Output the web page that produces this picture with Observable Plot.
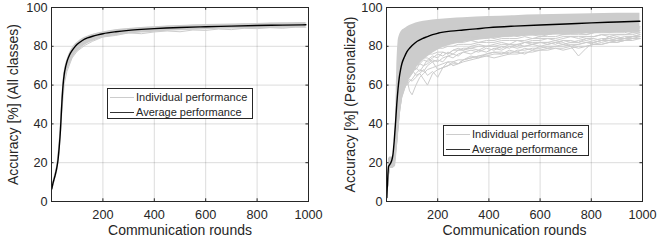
<!DOCTYPE html>
<html><head><meta charset="utf-8">
<script src="https://cdn.jsdelivr.net/npm/d3@7"></script>
<script src="https://cdn.jsdelivr.net/npm/@observablehq/plot@0.6"></script>
<style>
body{margin:0;background:#fff;}
#wrap{position:relative;width:657px;height:243px;overflow:hidden;font-family:"Liberation Sans",Arial,sans-serif;}
#wrap svg.plot{position:absolute;top:0;}
.leg{position:absolute;background:#fff;border:1px solid #262626;box-sizing:border-box;font-size:11px;color:#262626;}
.leg .row{position:absolute;left:0;height:14px;line-height:14px;white-space:nowrap;}
.leg .sw{position:absolute;left:2px;width:24px;top:7px;}
.leg .tx{position:absolute;left:28px;top:0;}
</style></head>
<body><div id="wrap"></div>
<script>
// ---- data ----
const xTicks = [200, 400, 600, 800, 1000];
const yTicks = [0, 20, 40, 60, 80, 100];
const xLabel = "Communication rounds";
const yLabelL = "Accuracy [%] (All classes)";
const yLabelR = "Accuracy [%] (Personalized)";
const legendLabels = ["Individual performance", "Average performance"];

// Left panel (all classes)
const roundsL = [1,5,10,15,20,25,30,35,40,45,50,55,60,70,80,90,100,120,140,160,180,200,250,300,350,400,500,600,700,800,900,990];
const avgL = [6.5,9,11.5,14,17,21,28,37,50,60,66,69.5,72,75.5,77.8,79.6,81,83,84.3,85.2,85.9,86.5,87.5,88.2,88.7,89.1,89.7,90.1,90.4,90.7,90.9,91.1];
const upL  = [7,10,12.5,15,18,23,31,40,53,62,67.5,71,73,76.5,79,80.8,82,84,85.2,86.1,86.8,87.4,88.5,89.2,89.7,90.1,90.7,91.2,91.5,91.8,92.1,92.3];
const loL  = [5.5,7.5,9.5,12,15,19,25,33,45,55,61,64,66.5,70,73,75.5,77,79.5,81.3,82.5,83.5,84.3,85.5,86.3,86.8,87.3,88,88.5,88.9,89.1,89.3,89.5];
const roundsIndL = [1,10,20,30,40,50,60,80,100,130,160,200,250,300,350,400,450,500,550,600,650,700,750,800,850,900,950,990];
const indL1 = [6,10.5,15.5,26,46,61,67,74,77.5,80.5,82.6,84.8,85.6,86.9,86.5,87.4,87.9,87.5,88.4,88.2,88.9,88.6,89.3,89.1,89.6,89.3,89.9,89.8];
const indL2 = [7,12,18,30,52,67,73,78.7,81.6,84.5,86.1,87.2,88.4,88.9,89.6,89.8,90.3,90.4,90.9,90.8,91.2,91.1,91.5,91.5,91.8,91.6,92,92];

// Right panel (personalized)
const roundsR = [1,4,8,15,20,25,30,35,40,45,50,55,60,70,80,90,100,120,140,160,180,200,250,300,350,400,500,600,700,800,900,990];
const avgR = [2,10,18,19.5,21,24,31,40,50,58,64,68,71,74.5,77.3,79,80.4,82.6,84,85,86,86.7,87.8,88.4,89,89.6,90.4,91,91.5,92.1,92.5,92.9];
const roundsBandR = [1,5,8,15,25,30,35,40,45,50,55,60,70,80,100,130,160,200,250,300,400,500,600,700,800,900,990];
const upR = [4,14,22,23,23,25,40,68,82,85.5,87,88,89,90,91.2,92.5,93.2,93.8,94.3,94.7,95.3,95.8,96.2,96.5,96.8,97,97.1];
const loR = [1,8,16,17,17,17.5,18,24,32,40,46,51,56,60,65.5,71,74.5,78,80.5,82,83.8,84.8,85.5,86,86.5,87,87.3];
const roundsIndR = [1,10,20,30,40,50,60,70,80,90,100,115,130,145,160,180,200,220,240,260,280,300,330,360,390,420,450,480,510,540,570,600,630,660,690,720,750,780,810,840,870,900,930,960,990];
const indR1 = [2,18,18,19,30,45,55,60,63,57,55,60,64,66,68,69,70,71,72,72,73,73,74,75,75,76,76,77,77,76,78,78,79,79,78,79,80,80,81,81,82,83,83,84,84];
const indR2 = [3,17,18,20,33,48,57,62,64,66,68,65,66,63,60,66,68,69,70,71,71,72,73,74,75,74,75,76,76,77,77,78,78,79,79,80,79,80,81,81,82,82,83,83,84];
const indR3 = [2,18,19,21,36,52,60,64,67,69,70,72,73,74,74,72,68,69,72,70,71,73,74,75,76,77,77,76,78,78,79,79,80,80,80,81,81,82,82,83,83,83,84,84,85];
const indR4 = [3,18,19,22,38,54,62,66,69,71,72,73,74,75,76,76,77,77,76,78,78,79,79,80,80,80,81,81,81,82,82,82,82,83,82,80,75,79,82,83,83,84,84,85,85];
const indR5 = [2,19,20,22,40,56,63,67,70,72,73,75,76,77,77,78,79,79,80,80,81,81,81,82,82,82,83,83,83,83,84,84,84,84,85,85,85,85,85,86,86,86,86,86,87];
const indR6 = [3,19,20,23,42,58,65,69,71,73,74,76,77,78,79,80,80,81,81,82,82,82,83,82,83,83,84,84,84,85,84,85,85,85,86,86,86,86,87,87,87,87,87,88,88];
const indR7 = [2,19,21,23,44,60,66,70,72,74,75,77,78,79,80,80,81,82,82,83,83,83,84,84,84,85,85,85,86,86,86,86,86,87,87,87,87,88,88,88,88,88,88,89,89];
const indR8 = [3,20,21,24,45,61,67,71,73,75,76,78,79,78,80,81,82,82,83,82,83,84,83,84,85,84,85,86,85,86,86,85,86,87,86,87,87,86,87,88,87,88,88,87,88];
const indR9 = [2,20,21,25,46,62,68,72,74,76,77,79,80,81,81,82,83,83,84,84,84,85,85,85,86,86,86,86,87,87,87,87,87,88,88,88,88,88,89,89,89,89,89,89,90];
const indR10 = [3,20,22,25,48,63,69,73,75,77,78,80,81,82,83,83,84,84,85,85,86,85,86,87,86,87,87,87,88,87,88,88,88,89,88,89,89,89,89,90,89,90,90,90,90];
const indR11 = [2,18,19,21,34,50,58,62,65,64,66,69,67,70,71,73,72,74,75,74,76,77,76,78,77,79,78,80,79,80,81,80,81,82,81,82,82,83,82,83,84,83,84,85,85];
const indR12 = [3,17,18,20,32,47,56,61,60,62,63,66,68,67,70,72,73,72,75,76,75,77,78,77,79,78,80,79,81,80,81,82,81,82,83,82,83,84,83,84,84,85,84,85,86];
const indR13 = [2,18,19,21,35,51,59,63,66,68,66,70,71,73,72,74,76,75,77,76,78,78,79,78,80,80,79,81,80,82,81,82,82,81,83,83,82,84,84,83,85,84,85,85,86];
const indR14 = [3,18,19,22,37,53,61,65,64,67,69,68,71,70,73,75,74,77,76,78,79,78,80,81,80,81,82,81,83,82,83,83,84,83,84,85,84,85,85,86,85,86,86,87,87];
const indR15 = [2,17,18,20,31,46,54,58,61,63,62,64,66,68,65,67,64,69,70,72,71,73,75,74,76,77,76,78,77,79,78,80,79,80,81,80,81,82,81,82,83,82,83,84,84];

// ---- build tables ----
const toRows = (xs, ys) => xs.map((r, i) => ({round: r, value: ys[i]}));
const bandRows = (xs, lo, hi) => xs.map((r, i) => ({round: r, lo: lo[i], hi: hi[i]}));
const indRows = (xs, lists) => lists.flatMap((ys, k) => xs.map((r, i) => ({id: k, round: r, value: ys[i]})));

const GRAY = "#cccccc", DARK = "#262626";
const FONT = '"Liberation Sans", Arial, sans-serif';

function panel({width, marginLeft, marginRight, band, inds, avg, yLabel, labelOffsetY}) {
  return Plot.plot({
    width, height: 243,
    marginLeft, marginRight, marginTop: 7, marginBottom: 42,
    style: {fontFamily: FONT, fontSize: "12.7px", color: DARK, background: "transparent"},
    x: {domain: [0, 1000]},
    y: {domain: [0, 100]},
    marks: [
      Plot.gridX(xTicks.slice(0, -1), {stroke: "#000", strokeOpacity: 0.14}),
      Plot.gridY(yTicks.slice(1, -1), {stroke: "#000", strokeOpacity: 0.14}),
      Plot.areaY(band, {x: "round", y1: "lo", y2: "hi", fill: GRAY, curve: "monotone-x"}),
      Plot.line(inds, {x: "round", y: "value", z: "id", stroke: GRAY, strokeWidth: 1}),
      Plot.line(avg, {x: "round", y: "value", stroke: "#000", strokeWidth: 1.4, curve: "monotone-x"}),
      Plot.ruleX(xTicks, {x: d => d, y1: 0, y2: 1.4, stroke: DARK}),
      Plot.ruleX(xTicks, {x: d => d, y1: 98.6, y2: 100, stroke: DARK}),
      Plot.ruleY(yTicks, {y: d => d, x1: 0, x2: 10, stroke: DARK}),
      Plot.ruleY(yTicks, {y: d => d, x1: 990, x2: 1000, stroke: DARK}),
      Plot.frame({stroke: DARK, strokeWidth: 1}),
      Plot.axisX(xTicks, {tickSize: 0, tickPadding: 8, tickFormat: d => String(d), label: null, fontSize: 12.7}),
      Plot.axisX({ticks: [], tickSize: 0, label: xLabel, labelAnchor: "center", labelArrow: "none", labelOffset: 33, fontSize: 14}),
      Plot.axisY(yTicks, {tickSize: 0, tickPadding: 4, tickFormat: d => String(d), label: null, fontSize: 12.7}),
      Plot.axisY({ticks: [], tickSize: 0, label: yLabel, labelAnchor: "center", labelArrow: "none", labelOffset: labelOffsetY, fontSize: 14})
    ]
  });
}

const wrap = document.getElementById("wrap");
const p1 = panel({
  width: 328, marginLeft: 51, marginRight: 20,
  band: bandRows(roundsL, loL, upL),
  inds: indRows(roundsIndL, [indL1, indL2]),
  avg: toRows(roundsL, avgL),
  yLabel: yLabelL, labelOffsetY: 43
});
p1.classList.add("plot"); p1.style.left = "0px";
wrap.appendChild(p1);

const p2 = panel({
  width: 329, marginLeft: 58, marginRight: 15,
  band: bandRows(roundsBandR, loR, upR),
  inds: indRows(roundsIndR, [indR1, indR2, indR3, indR4, indR5, indR6, indR7, indR8, indR9, indR10, indR11, indR12, indR13, indR14, indR15]),
  avg: toRows(roundsR, avgR),
  yLabel: yLabelR, labelOffsetY: 41
});
p2.classList.add("plot"); p2.style.left = "328px";
wrap.appendChild(p2);

function legend(left, top) {
  const d = document.createElement("div");
  d.className = "leg";
  d.style.cssText = `left:${left}px;top:${top}px;width:146px;height:31px;`;
  const colors = [GRAY, "#333"];
  const widths = [1, 1.5];
  legendLabels.forEach((t, i) => {
    const row = document.createElement("div");
    row.className = "row";
    row.style.top = (1 + i * 14.5) + "px";
    row.innerHTML = `<div class="sw" style="border-top:${widths[i]}px solid ${colors[i]}"></div><div class="tx">${t}</div>`;
    d.appendChild(row);
  });
  wrap.appendChild(d);
}
legend(107, 88);
legend(443, 125);
</script></body></html>
